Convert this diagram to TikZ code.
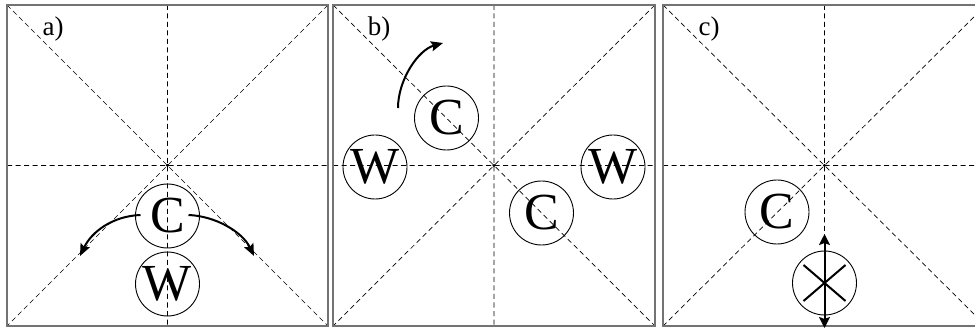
\documentclass[tikz,border=0pt]{standalone}
\usepackage{fontspec}
\setmainfont{Liberation Serif}
\usetikzlibrary{arrows.meta,calc}
\begin{document}
\begin{tikzpicture}[x=1pt,y=-1pt,
  panel/.style={draw=black!55, line width=1.8pt},
  guide/.style={draw=black, line width=0.7pt, dash pattern=on 5pt off 3.5pt},
  piece/.style={circle, draw, line width=0.9pt, minimum size=64pt, inner sep=0pt, font=\fontsize{52}{52}\selectfont},
  move/.style={line width=2pt, -{Stealth[length=12pt,width=10pt,inset=2pt]}},
  thickline/.style={line width=2pt},
  lab/.style={font=\fontsize{27}{27}\selectfont}]
\useasboundingbox (0,0) rectangle (975,331);
\clip (0,0) rectangle (975,331);

\foreach \L/\R/\name in {7/328/a,333/655/b,663/986/c}{
  \draw[guide] (\L,5) -- (\R,326) (\R,5) -- (\L,326)
               ({(\L+\R)/2},5) -- ({(\L+\R)/2},326) (\L,165.5) -- (\R,165.5);
  \fill ({(\L+\R)/2},165.5) circle (1.6pt);
  \draw[panel] (\L,5) rectangle (\R,326);
  \node[lab] (lab\name) at (\L+46,29) {\name)};
}

% panel a
\node[piece] (Ca) at (167.5,216) {C};
\node[piece] (Wa) at (167.5,284) {W};
\coordinate (aL) at (80,256);
\coordinate (aR) at (254,256);
\draw[move] ($(Ca)+(-27,-1)$) .. controls ($(Ca)+(-55,0)$) and ($(Ca)+(-76,16)$) .. (aL);
\draw[move] ($(Ca)+(21,-1)$) .. controls ($(Ca)+(48,0)$) and ($(Ca)+(75,16)$) .. (aR);

% panel b
\node[piece] (Cb1) at (446.5,118) {C};
\node[piece] (Wb1) at (375,167) {W};
\node[piece] (Cb2) at (541.5,213) {C};
\node[piece] (Wb2) at (613,167) {W};
\coordinate (bS) at (398,108);
\coordinate (bE) at (443,43);
\draw[move] (bS) .. controls (398,80) and (418,50) .. (bE);

% panel c
\node[piece] (Cc) at (777,212) {C};
\node[piece] (Xc) at (824.5,283) {};
\draw[thickline] ($(Xc)+(-21,-18)$) -- ($(Xc)+(21,18)$);
\draw[thickline] ($(Xc)+(-21,18)$) -- ($(Xc)+(21,-18)$);
\coordinate (cTop) at ($(Xc)+(0,-49)$);
\coordinate (cBot) at ($(Xc)+(0,45)$);
\draw[thickline, {Stealth[length=11pt,width=11pt,inset=2pt]}-{Stealth[length=11pt,width=11pt,inset=2pt]}] (cTop) -- (cBot);
\end{tikzpicture}
\end{document}
